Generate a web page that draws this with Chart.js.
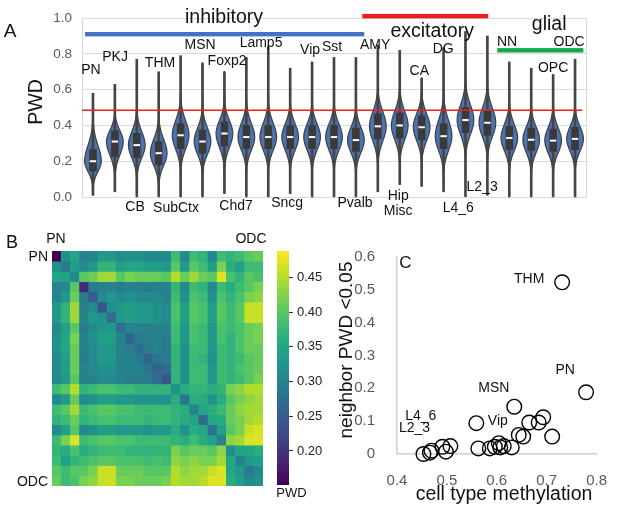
<!DOCTYPE html>
<html>
<head>
<meta charset="utf-8">
<script src="https://cdn.jsdelivr.net/npm/chart.js@4.4.0/dist/chart.umd.min.js"></script>
<style>
  html, body { margin: 0; padding: 0; background: #fff; }
  #wrap { position: relative; width: 617px; height: 508px; overflow: hidden; }
  canvas { position: absolute; }
</style>
</head>
<body>
<div id="wrap">
  <canvas id="chartA" width="617" height="228" style="left:0;top:0"></canvas>
  <canvas id="chartB" width="272" height="280" style="left:0;top:228px"></canvas>
  <canvas id="chartBar" width="60" height="280" style="left:272px;top:228px"></canvas>
  <canvas id="chartC" width="285" height="280" style="left:332px;top:228px"></canvas>
</div>
<script>
// ---- panel A: PWD per cell type (violins) ----
const cellTypes = ["PN", "PKJ", "CB", "THM", "SubCtx", "MSN", "Foxp2", "Chd7", "Lamp5", "Sncg", "Vip", "Sst", "Pvalb",
  "AMY", "Hip", "CA", "DG", "L4_6", "L2_3", "NN", "Misc", "OPC", "ODC"];
const medians = [0.20, 0.31, 0.29, 0.245, 0.345, 0.31, 0.355, 0.335, 0.335, 0.335, 0.335, 0.335, 0.318,
  0.395, 0.40, 0.39, 0.34, 0.43, 0.415, 0.33, 0.32, 0.315, 0.325];
const q1s = [0.145, 0.225, 0.22, 0.18, 0.27, 0.245, 0.285, 0.27, 0.27, 0.27, 0.27, 0.27, 0.255,
  0.325, 0.33, 0.32, 0.27, 0.36, 0.345, 0.265, 0.26, 0.255, 0.265];
const q3s = [0.265, 0.37, 0.355, 0.31, 0.41, 0.375, 0.42, 0.40, 0.40, 0.40, 0.40, 0.40, 0.385,
  0.465, 0.47, 0.455, 0.41, 0.50, 0.485, 0.395, 0.385, 0.38, 0.39];
const mins = [0.01, 0.03, 0.0, 0.0, 0.0, 0.0, 0.02, 0.0, 0.0, 0.02, 0.0, 0.0, 0.0,
  0.03, 0.07, 0.06, 0.03, 0.0, 0.01, 0.0, 0.0, 0.0, 0.0];
const maxs = [0.58, 0.63, 0.77, 0.70, 0.79, 0.75, 0.70, 0.78, 0.84, 0.72, 0.755, 0.78, 0.78,
  0.85, 0.82, 0.665, 0.835, 0.925, 0.90, 0.755, 0.72, 0.685, 0.77];
// where the violin body fades out (lower / upper)
const bodyLo = [0.07, 0.14, 0.13, 0.09, 0.17, 0.15, 0.18, 0.17, 0.17, 0.17, 0.17, 0.17, 0.16,
  0.21, 0.22, 0.22, 0.16, 0.25, 0.24, 0.17, 0.16, 0.16, 0.17];
const bodyHi = [0.40, 0.45, 0.46, 0.42, 0.53, 0.48, 0.52, 0.51, 0.51, 0.50, 0.50, 0.50, 0.48,
  0.58, 0.58, 0.56, 0.54, 0.62, 0.60, 0.50, 0.48, 0.48, 0.48];
const threshold = 0.485;
const pwdTicks = [0, 0.2, 0.4, 0.6, 0.8, 1.0];

// ---- panel B: pairwise PWD matrix ----
const pwdMatrix = [
  [0.15,0.32,0.35,0.30,0.30,0.33,0.33,0.31,0.32,0.32,0.31,0.31,0.31,0.38,0.31,0.38,0.37,0.31,0.38,0.37,0.38,0.40,0.41],
  [0.32,0.29,0.34,0.31,0.33,0.37,0.37,0.34,0.35,0.35,0.34,0.34,0.33,0.40,0.33,0.40,0.38,0.34,0.42,0.36,0.34,0.38,0.38],
  [0.35,0.34,0.31,0.40,0.41,0.44,0.44,0.40,0.42,0.41,0.41,0.41,0.40,0.45,0.41,0.44,0.41,0.40,0.47,0.39,0.37,0.40,0.39],
  [0.30,0.31,0.40,0.19,0.29,0.30,0.30,0.29,0.30,0.30,0.29,0.30,0.30,0.37,0.31,0.38,0.37,0.31,0.38,0.36,0.38,0.40,0.42],
  [0.30,0.33,0.41,0.29,0.25,0.31,0.33,0.31,0.32,0.31,0.31,0.31,0.30,0.38,0.32,0.39,0.38,0.32,0.39,0.37,0.39,0.42,0.43],
  [0.33,0.37,0.44,0.30,0.31,0.24,0.32,0.33,0.34,0.33,0.33,0.32,0.31,0.39,0.34,0.40,0.39,0.34,0.40,0.38,0.40,0.46,0.46],
  [0.33,0.37,0.44,0.30,0.33,0.32,0.27,0.33,0.34,0.33,0.33,0.32,0.31,0.39,0.34,0.40,0.39,0.34,0.40,0.38,0.40,0.46,0.46],
  [0.31,0.34,0.40,0.29,0.31,0.33,0.33,0.27,0.30,0.30,0.30,0.30,0.30,0.38,0.33,0.39,0.38,0.33,0.39,0.38,0.39,0.41,0.42],
  [0.32,0.35,0.42,0.30,0.32,0.34,0.34,0.30,0.26,0.29,0.30,0.30,0.29,0.38,0.33,0.39,0.38,0.33,0.39,0.37,0.39,0.41,0.42],
  [0.32,0.35,0.41,0.30,0.31,0.33,0.33,0.30,0.29,0.27,0.29,0.30,0.29,0.37,0.32,0.38,0.38,0.33,0.38,0.37,0.39,0.41,0.41],
  [0.31,0.34,0.41,0.29,0.31,0.33,0.33,0.30,0.30,0.29,0.26,0.28,0.29,0.37,0.32,0.38,0.37,0.32,0.38,0.37,0.38,0.40,0.41],
  [0.31,0.34,0.41,0.30,0.31,0.32,0.32,0.30,0.30,0.30,0.28,0.26,0.27,0.37,0.32,0.38,0.38,0.33,0.38,0.37,0.39,0.40,0.41],
  [0.31,0.33,0.40,0.30,0.30,0.31,0.31,0.30,0.29,0.29,0.29,0.27,0.24,0.37,0.32,0.38,0.38,0.33,0.38,0.37,0.38,0.40,0.42],
  [0.38,0.40,0.45,0.37,0.38,0.39,0.39,0.38,0.38,0.37,0.37,0.37,0.37,0.32,0.36,0.37,0.37,0.36,0.37,0.42,0.43,0.45,0.45],
  [0.31,0.33,0.41,0.31,0.32,0.34,0.34,0.33,0.33,0.32,0.32,0.32,0.32,0.36,0.28,0.36,0.36,0.32,0.36,0.40,0.42,0.43,0.44],
  [0.38,0.40,0.44,0.38,0.39,0.40,0.40,0.39,0.39,0.38,0.38,0.38,0.38,0.37,0.36,0.30,0.35,0.36,0.38,0.41,0.43,0.44,0.44],
  [0.37,0.38,0.41,0.37,0.38,0.39,0.39,0.38,0.38,0.38,0.37,0.38,0.38,0.37,0.36,0.35,0.27,0.35,0.36,0.41,0.42,0.44,0.45],
  [0.31,0.34,0.40,0.31,0.32,0.34,0.34,0.33,0.33,0.33,0.32,0.33,0.33,0.36,0.32,0.36,0.35,0.28,0.34,0.40,0.42,0.46,0.47],
  [0.38,0.42,0.47,0.38,0.39,0.40,0.40,0.39,0.39,0.38,0.38,0.38,0.38,0.37,0.36,0.38,0.36,0.34,0.30,0.43,0.44,0.47,0.47],
  [0.37,0.36,0.39,0.36,0.37,0.38,0.38,0.38,0.37,0.37,0.37,0.37,0.37,0.42,0.40,0.41,0.41,0.40,0.43,0.31,0.35,0.35,0.36],
  [0.38,0.34,0.37,0.38,0.39,0.40,0.40,0.39,0.39,0.39,0.38,0.39,0.38,0.43,0.42,0.43,0.42,0.42,0.44,0.35,0.30,0.33,0.34],
  [0.40,0.38,0.40,0.40,0.42,0.46,0.46,0.41,0.41,0.41,0.40,0.40,0.40,0.45,0.43,0.44,0.44,0.46,0.47,0.35,0.33,0.29,0.31],
  [0.41,0.38,0.39,0.42,0.43,0.46,0.46,0.42,0.42,0.41,0.41,0.41,0.42,0.45,0.44,0.44,0.45,0.47,0.47,0.36,0.34,0.31,0.32]
];
const cbarMin = 0.151;
const cbarMax = 0.488;
const cbarTicks = [0.20, 0.25, 0.30, 0.35, 0.40, 0.45];

// ---- panel C: methylation vs neighbour fraction ----
const methylation = [0.453, 0.466, 0.469, 0.491, 0.498, 0.507, 0.559, 0.563, 0.586, 0.596, 0.604, 0.607,
  0.614, 0.630, 0.635, 0.644, 0.653, 0.665, 0.684, 0.693, 0.711, 0.731, 0.779];
const neighborFrac = [0.0, 0.004, 0.010, 0.022, 0.007, 0.024, 0.094, 0.017, 0.017, 0.022, 0.033, 0.020,
  0.024, 0.020, 0.144, 0.058, 0.053, 0.096, 0.096, 0.112, 0.053, 0.523, 0.188];

Chart.defaults.font.family = "'Liberation Sans', Arial, sans-serif";
Chart.defaults.color = "#222";

const VIRIDIS = ["#440154", "#482475", "#414487", "#355f8d", "#2a788e", "#21918c",
  "#22a884", "#44bf70", "#7ad151", "#bddf26", "#fde725"];

function hexRgb(h) {
  return [parseInt(h.slice(1, 3), 16), parseInt(h.slice(3, 5), 16), parseInt(h.slice(5, 7), 16)];
}

function viridis(v) {
  let t = (v - cbarMin) / (cbarMax - cbarMin);
  t = Math.max(0, Math.min(1, t));
  const p = t * (VIRIDIS.length - 1);
  const k = Math.min(VIRIDIS.length - 2, Math.floor(p));
  const f = p - k;
  const a = hexRgb(VIRIDIS[k]), b = hexRgb(VIRIDIS[k + 1]);
  const c = a.map((x, j) => Math.round(x + (b[j] - x) * f));
  return "rgb(" + c[0] + "," + c[1] + "," + c[2] + ")";
}

function txt(ctx, s, x, y, size, align, color) {
  ctx.font = size + "px 'Liberation Sans', Arial, sans-serif";
  ctx.fillStyle = color || "#111";
  ctx.textAlign = align || "center";
  ctx.textBaseline = "middle";
  ctx.fillText(s, x, y);
}

// annotation placement (category index / value)
const violinLabels = [
  ["PN", -0.09, 0.707], ["PKJ", 1.01, 0.782], ["CB", 1.92, -0.058], ["THM", 3.06, 0.75],
  ["SubCtx", 3.79, -0.064], ["MSN", 4.89, 0.851], ["Foxp2", 6.12, 0.761], ["Chd7", 6.53, -0.053],
  ["Lamp5", 7.67, 0.862], ["Sncg", 8.86, -0.037], ["Vip", 9.91, 0.819], ["Sst", 10.91, 0.84],
  ["Pvalb", 11.96, -0.037], ["AMY", 12.88, 0.851], ["Hip", 13.93, 0.005], ["Misc", 13.93, -0.08],
  ["CA", 14.89, 0.702], ["DG", 15.98, 0.824], ["L4_6", 16.67, -0.064], ["L2_3", 17.76, 0.053],
  ["NN", 18.9, 0.867], ["OPC", 21.0, 0.723], ["ODC", 21.73, 0.867]
];
const groups = [
  { name: "inhibitory", from: -0.36, to: 12.38, bar: 0.91, tx: 5.98, ty: 1.005, color: "#4472c4" },
  { name: "excitatory", from: 12.29, to: 18.04, bar: 1.011, tx: 15.48, ty: 0.925, color: "#ee1d23" },
  { name: "glial", from: 18.45, to: 22.38, bar: 0.82, tx: 20.82, ty: 0.963, color: "#14a84a" }
];

const violinPlugin = {
  id: "violins",
  beforeDatasetsDraw(chart) {
    const { ctx, chartArea, scales: { x, y } } = chart;
    ctx.save();
    ctx.strokeStyle = "#d9d9d9";
    ctx.lineWidth = 1;
    ctx.beginPath();
    ctx.moveTo(chartArea.right + 0.5, chartArea.top);
    ctx.lineTo(chartArea.right + 0.5, chartArea.bottom);
    ctx.stroke();
    const half = (x.getPixelForValue(1) - x.getPixelForValue(0)) * 0.38;
    cellTypes.forEach((name, i) => {
      const cx = x.getPixelForValue(i);
      const pts = [];
      for (let v = mins[i]; v <= maxs[i] + 1e-9; v += 0.004) {
        const t = v < medians[i] ? (medians[i] - v) / (medians[i] - bodyLo[i]) : (v - medians[i]) / (bodyHi[i] - medians[i]);
        pts.push([y.getPixelForValue(v), half * Math.exp(-2.6 * t * t)]);
      }
      ctx.beginPath();
      pts.forEach(([py, w], k) => (k ? ctx.lineTo(cx + w, py) : ctx.moveTo(cx + w, py)));
      for (let k = pts.length - 1; k >= 0; k--) ctx.lineTo(cx - pts[k][1], pts[k][0]);
      ctx.closePath();
      ctx.fillStyle = "#4c72b0";
      ctx.fill();
      ctx.lineWidth = 1.2;
      ctx.strokeStyle = "#404040";
      ctx.stroke();
    });
    ctx.restore();
  },
  afterDatasetsDraw(chart) {
    const { ctx, chartArea, scales: { x, y } } = chart;
    ctx.save();
    ctx.strokeStyle = "#e8231f";
    ctx.lineWidth = 1.3;
    ctx.beginPath();
    ctx.moveTo(chartArea.left, y.getPixelForValue(threshold));
    ctx.lineTo(x.getPixelForValue(22.33), y.getPixelForValue(threshold));
    ctx.stroke();
    ctx.restore();
  },
  afterDraw(chart) {
    const { ctx, scales: { x, y } } = chart;
    ctx.save();
    groups.forEach(g => {
      ctx.fillStyle = g.color;
      const x0 = x.getPixelForValue(g.from), x1 = x.getPixelForValue(g.to);
      ctx.fillRect(x0, y.getPixelForValue(g.bar) - 2.2, x1 - x0, 4.4);
      txt(ctx, g.name, x.getPixelForValue(g.tx), y.getPixelForValue(g.ty), 19.5, "center", "#111");
    });
    violinLabels.forEach(([s, i, v]) => txt(ctx, s, x.getPixelForValue(i), y.getPixelForValue(v), 14, "center", "#111"));
    txt(ctx, "A", 10, 32, 19, "center", "#111");
    ctx.translate(37, 102);
    ctx.rotate(-Math.PI / 2);
    txt(ctx, "PWD", 0, 0, 19.5, "center", "#111");
    ctx.restore();
  }
};

new Chart(document.getElementById("chartA"), {
  type: "bar",
  data: {
    labels: cellTypes,
    datasets: [
      {
        type: "line",
        data: medians,
        showLine: false,
        pointStyle: "line",
        pointRadius: 3.2,
        pointBorderWidth: 2,
        pointBorderColor: "#ffffff",
        pointBackgroundColor: "#ffffff",
        order: 1
      },
      {
        data: q1s.map((q, i) => [q, q3s[i]]),
        backgroundColor: "#3a3a3a",
        barThickness: 7,
        grouped: false,
        order: 2
      },
      {
        data: mins.map((m, i) => [m, maxs[i]]),
        backgroundColor: "#454545",
        barThickness: 2,
        grouped: false,
        order: 3
      }
    ]
  },
  options: {
    responsive: false,
    animation: false,
    layout: { padding: { left: 0, top: 9, right: 31, bottom: 31 } },
    plugins: { legend: { display: false }, tooltip: { enabled: false } },
    scales: {
      x: { display: false },
      y: {
        min: 0,
        max: 1,
        afterBuildTicks: (s) => { s.ticks = pwdTicks.map(v => ({ value: v })); },
        afterFit: (s) => { s.width = 82; },
        ticks: { callback: v => v.toFixed(1), font: { size: 13.5 }, color: "#595959", padding: 10 },
        grid: { color: "#d9d9d9", drawTicks: false },
        border: { color: "#d9d9d9" }
      }
    }
  },
  plugins: [violinPlugin]
});

// ---- heatmap B ----
const heatLabelPlugin = {
  id: "heatLabels",
  afterDraw(chart) {
    const { ctx } = chart;
    ctx.save();
    txt(ctx, "B", 12, 15, 18, "center", "#111");
    txt(ctx, "PN", 56, 11.5, 14, "center", "#111");
    txt(ctx, "ODC", 251, 11.5, 14, "center", "#111");
    txt(ctx, "PN", 48, 29, 14, "right", "#111");
    txt(ctx, "ODC", 48, 254, 14, "right", "#111");
    ctx.restore();
  }
};

new Chart(document.getElementById("chartB"), {
  type: "bar",
  data: {
    labels: cellTypes,
    datasets: pwdMatrix.map((row, r) => ({
      data: row.map(() => [r, r + 1]),
      backgroundColor: row.map(viridis),
      barPercentage: 1,
      categoryPercentage: 1,
      grouped: false,
      borderWidth: 0
    }))
  },
  options: {
    responsive: false,
    animation: false,
    layout: { padding: { left: 52, top: 23, right: 9, bottom: 22 } },
    plugins: { legend: { display: false }, tooltip: { enabled: false } },
    scales: {
      x: { display: false },
      y: { display: false, min: 0, max: cellTypes.length, reverse: true }
    }
  },
  plugins: [heatLabelPlugin]
});

// ---- colour bar ----
new Chart(document.getElementById("chartBar"), {
  type: "bar",
  data: {
    labels: ["PWD"],
    datasets: [{
      data: [[cbarMin, cbarMax]],
      barPercentage: 1,
      categoryPercentage: 1,
      backgroundColor: (c) => {
        const area = c.chart.chartArea;
        if (!area) return "#21918c";
        const g = c.chart.ctx.createLinearGradient(0, area.bottom, 0, area.top);
        VIRIDIS.forEach((col, k) => g.addColorStop(k / (VIRIDIS.length - 1), col));
        return g;
      }
    }]
  },
  options: {
    responsive: false,
    animation: false,
    layout: { padding: { left: 5, top: 23, right: 0, bottom: 23 } },
    plugins: { legend: { display: false }, tooltip: { enabled: false } },
    scales: {
      x: { display: false },
      y: {
        position: "right",
        min: cbarMin,
        max: cbarMax,
        afterBuildTicks: (s) => { s.ticks = cbarTicks.map(v => ({ value: v })); },
        afterFit: (s) => { s.width = 43; },
        ticks: { callback: v => v.toFixed(2), font: { size: 13 }, color: "#222", padding: 4 },
        grid: { drawOnChartArea: false, drawTicks: true, tickLength: 4, color: "#333" },
        border: { display: false }
      }
    }
  },
  plugins: [{
    id: "cbarTitle",
    afterDraw(chart) {
      txt(chart.ctx, "PWD", 19.5, 265, 13, "center", "#111");
    }
  }]
});

// ---- scatter C ----
const scatterLabels = [
  ["THM", 0.665, 0.533], ["PN", 0.737, 0.256], ["MSN", 0.594, 0.201], ["Vip", 0.602, 0.100],
  ["L4_6", 0.4475, 0.114], ["L2_3", 0.435, 0.079]
];

const scatterTextPlugin = {
  id: "scatterText",
  afterDraw(chart) {
    const { ctx, scales: { x, y } } = chart;
    ctx.save();
    scatterLabels.forEach(([s, vx, vy]) => txt(ctx, s, x.getPixelForValue(vx), y.getPixelForValue(vy), 14, "center", "#111"));
    txt(ctx, "C", x.getPixelForValue(0.417), y.getPixelForValue(0.582), 17, "center", "#111");
    txt(ctx, "cell type methylation", 172, 267, 19.5, "center", "#111");
    ctx.translate(15, 122);
    ctx.rotate(-Math.PI / 2);
    txt(ctx, "neighbor PWD <0.05", 0, 0, 19, "center", "#111");
    ctx.restore();
  }
};

new Chart(document.getElementById("chartC"), {
  type: "scatter",
  data: {
    datasets: [{
      data: methylation.map((m, i) => ({ x: m, y: neighborFrac[i] })),
      pointRadius: 7.3,
      pointBorderWidth: 1.4,
      pointBorderColor: "#000",
      pointBackgroundColor: "rgba(0,0,0,0)",
      clip: false
    }]
  },
  options: {
    responsive: false,
    animation: false,
    layout: { padding: { left: 0, top: 29, right: 12, bottom: 0 } },
    plugins: { legend: { display: false }, tooltip: { enabled: false } },
    scales: {
      x: {
        type: "linear",
        min: 0.4,
        max: 0.8,
        afterFit: (s) => { s.height = 54; },
        ticks: { stepSize: 0.1, callback: v => v.toFixed(1), font: { size: 15 }, color: "#595959", padding: 10 },
        grid: { display: false },
        border: { color: "#d0d0d0", width: 1.5 }
      },
      y: {
        min: 0,
        max: 0.6,
        afterFit: (s) => { s.width = 65; },
        ticks: { stepSize: 0.1, callback: v => (Math.abs(v) < 1e-9 ? "0" : v.toFixed(1)), font: { size: 15 }, color: "#595959", padding: 14 },
        grid: { display: false },
        border: { color: "#d0d0d0", width: 1.5 }
      }
    }
  },
  plugins: [scatterTextPlugin]
});
</script>
</body>
</html>
